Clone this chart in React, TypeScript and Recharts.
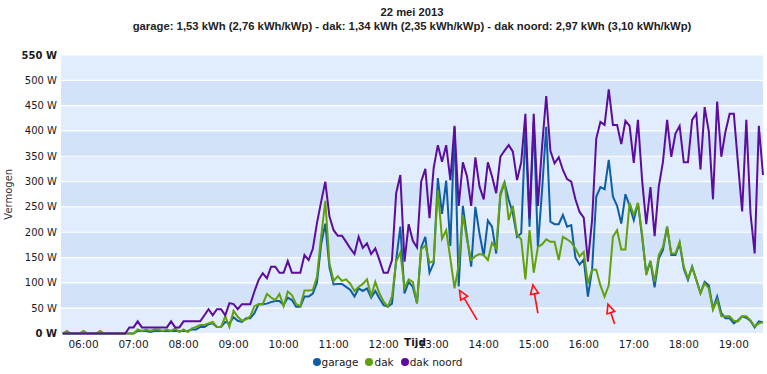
import React from 'react';
import { LineChart, Line, XAxis, YAxis, CartesianGrid, Legend, ReferenceLine } from 'recharts';

// samples every 5 minutes, first one at 05:35
const START_MIN = 335;
const STEP_MIN = 5;

const garage = [
  0, 0, 0, 0, 0, 0, 0, 0, 0, 0,
  0, 0, 0, 0, 0, 0, 0, 0, 5, 5,
  5, 3, 5, 5, 5, 5, 5, 5, 5, 5,
  5, 8, 8, 13, 13, 18, 20, 13, 13, 23,
  20, 32, 25, 23, 30, 30, 40, 58, 58, 59,
  62, 64, 64, 56, 71, 66, 53, 53, 73, 73,
  79, 100, 176, 217, 130, 97, 98, 98, 92, 86,
  73, 89, 84, 89, 71, 84, 69, 56, 53, 59,
  145, 211, 79, 102, 92, 60, 170, 191, 120, 139,
  307, 236, 302, 173, 407, 93, 252, 191, 132, 250,
  197, 153, 223, 211, 158, 273, 298, 264, 237, 191,
  198, 403, 211, 418, 171, 283, 408, 221, 216, 216,
  234, 211, 214, 150, 136, 146, 73, 126, 270, 289,
  285, 343, 270, 252, 217, 275, 252, 224, 257, 191,
  119, 142, 91, 148, 165, 211, 155, 155, 178, 128,
  106, 132, 106, 80, 102, 95, 49, 73, 40, 30,
  30, 20, 26, 34, 31, 25, 12, 24, 22,
];

const dak = [
  0, 5, 0, 0, 0, 5, 0, 0, 0, 5,
  0, 0, 0, 0, 0, 0, 0, 0, 8, 5,
  8, 5, 8, 8, 5, 8, 5, 10, 3, 8,
  3, 10, 13, 17, 17, 20, 23, 13, 13, 34,
  13, 45, 33, 25, 28, 34, 54, 58, 58, 78,
  71, 66, 78, 54, 83, 76, 58, 54, 85, 85,
  86, 112, 191, 262, 139, 104, 113, 104, 107, 98,
  84, 92, 98, 107, 74, 102, 79, 63, 53, 73,
  142, 160, 90, 107, 102, 59, 166, 174, 140, 143,
  283, 187, 204, 148, 89, 135, 234, 184, 145, 153,
  157, 155, 145, 179, 168, 277, 300, 224, 252, 195,
  186, 107, 204, 120, 171, 176, 186, 181, 181, 145,
  191, 186, 180, 168, 152, 161, 99, 126, 126, 95,
  73, 95, 191, 204, 166, 166, 258, 234, 258, 197,
  115, 144, 102, 155, 171, 211, 158, 158, 181, 132,
  109, 131, 106, 79, 99, 89, 47, 66, 34, 34,
  34, 25, 24, 34, 34, 26, 14, 20, 22,
];

const dakNoord = [
  0, 0, 0, 0, 0, 0, 0, 0, 0, 0,
  0, 0, 0, 0, 0, 0, 12, 12, 24, 12,
  12, 12, 12, 12, 12, 12, 24, 12, 12, 24,
  24, 24, 24, 24, 36, 48, 36, 48, 48, 36,
  60, 58, 48, 58, 58, 58, 83, 106, 119, 109,
  132, 132, 120, 120, 143, 120, 120, 120, 155, 145,
  167, 218, 260, 300, 231, 204, 193, 193, 181, 168,
  157, 191, 169, 178, 157, 168, 145, 120, 120, 145,
  277, 313, 142, 216, 183, 170, 300, 325, 228, 327,
  372, 339, 372, 303, 410, 252, 338, 310, 252, 348,
  290, 265, 338, 310, 277, 349, 361, 372, 359, 303,
  338, 434, 227, 434, 252, 369, 469, 361, 336, 348,
  323, 305, 300, 265, 240, 229, 142, 224, 385, 418,
  412, 482, 412, 412, 374, 420, 410, 337, 422, 303,
  216, 289, 192, 290, 339, 422, 349, 395, 410, 338,
  338, 422, 434, 324, 447, 399, 265, 458, 349, 399,
  434, 434, 336, 241, 422, 237, 158, 410, 313,
];

const hourTicks = [360, 420, 480, 540, 600, 660, 720, 780, 840, 900, 960, 1020, 1080, 1140];
const wattTicks = [0, 50, 100, 150, 200, 250, 300, 350, 400, 450, 500, 550];

const series = [
  { key: 'garage', name: 'garage', color: '#0e5ea6' },
  { key: 'dak', name: 'dak', color: '#62a10c' },
  { key: 'dakNoord', name: 'dak noord', color: '#5c0c9e' },
];

// red hand-drawn arrows: tail -> tip (minutes, W)
const arrows = [
  { tail: [832, 27], tip: [811, 85] },
  { tail: [905, 40], tip: [899, 96] },
  { tail: [997, 19], tip: [989, 58] },
];

const data = garage.map((g, i) => ({
  t: START_MIN + i * STEP_MIN,
  garage: g,
  dak: dak[i],
  dakNoord: dakNoord[i],
}));

const font = '"DejaVu Sans", Verdana, sans-serif';
const titleFont = '"Liberation Sans", Arial, sans-serif';

const fmtHour = (m: number) => `${String(Math.floor(m / 60)).padStart(2, '0')}:00`;

const YTick = ({ x, y, payload }: any) => {
  const edge = payload.value === 0 || payload.value === 550;
  return (
    <text x={x} y={y} dy={3.5} textAnchor="end" fontSize={10} fontFamily={font}
      fill="#1a1a1a" fontWeight={edge ? 'bold' : 'normal'}>
      {payload.value} W
    </text>
  );
};

const ArrowShape = (props: any) => {
  const { x1, y1, x2, y2 } = props;
  const dx = x1 - x2;
  const dy = y1 - y2;
  const len = Math.hypot(dx, dy) || 1;
  const ux = dx / len;
  const uy = dy / len;
  const bx = x2 + ux * 9;
  const by = y2 + uy * 9;
  const px = -uy * 4;
  const py = ux * 4;
  return (
    <g>
      <line x1={x1} y1={y1} x2={bx} y2={by} stroke="#ff1010" strokeWidth={1.6} />
      <polygon points={`${x2},${y2} ${bx + px},${by + py} ${bx - px},${by - py}`}
        fill="none" stroke="#ff1010" strokeWidth={1.6} />
    </g>
  );
};

const LegendRow = () => (
  <div style={{ display: 'flex', justifyContent: 'center', paddingLeft: 19, height: 16,
    alignItems: 'center', fontFamily: font, fontSize: 10.5, color: '#1a1a1a' }}>
    {series.map((s) => (
      <div key={s.key} style={{ display: 'flex', alignItems: 'center', marginRight: 7 }}>
        <span style={{ width: 8, height: 8, borderRadius: 4, background: s.color, marginRight: 1 }} />
        <span>{s.name}</span>
      </div>
    ))}
  </div>
);

export default function App() {
  return (
    <div style={{ position: 'absolute', left: 0, top: 0, width: 767, height: 374, background: '#fff' }}>
      <div style={{ position: 'absolute', left: 61, width: 702, top: 5, textAlign: 'center',
        fontFamily: titleFont, fontWeight: 'bold', fontSize: 11.2, lineHeight: '14px', color: '#222' }}>
        22 mei 2013
      </div>
      <div style={{ position: 'absolute', left: 61, width: 702, top: 19, textAlign: 'center',
        fontFamily: titleFont, fontWeight: 'bold', fontSize: 11.3, lineHeight: '14px', color: '#222' }}>
        garage: 1,53 kWh (2,76 kWh/kWp) - dak: 1,34 kWh (2,35 kWh/kWp) - dak noord: 2,97 kWh (3,10 kWh/kWp)
      </div>
      <LineChart width={767} height={374} data={data}
        margin={{ top: 55, right: 4, left: 0, bottom: 4.5 }}>
        <CartesianGrid vertical={false} stroke="#ffffff" strokeWidth={1.2}
          horizontalFill={['#e1edfc', '#d2e2f8']} />
        <XAxis dataKey="t" type="number" domain={[333, 1175]} ticks={hourTicks}
          tickFormatter={fmtHour} axisLine={false} tickLine={false} tickSize={0} tickMargin={7}
          height={20} interval={0}
          tick={{ fontSize: 10.5, fill: '#1a1a1a', fontFamily: font }}
          label={({ viewBox }: any) => (
            <text x={viewBox.x + viewBox.width / 2 + 3} y={viewBox.y + 12.5} textAnchor="middle"
              fontSize={10.5} fontWeight="bold" fontFamily={font} fill="#1a1a1a">Tijd</text>
          )} />
        <YAxis domain={[0, 550]} ticks={wattTicks} width={61} axisLine={false} tickLine={false}
          tickSize={0} tickMargin={4} interval={0} tick={<YTick />}
          label={({ viewBox }: any) => (
            <text x={12} y={viewBox.y + viewBox.height / 2} textAnchor="middle" fontSize={10}
              fontFamily={font} fill="#333" transform={`rotate(-90 12 ${viewBox.y + viewBox.height / 2})`}>
              Vermogen
            </text>
          )} />
        <Legend verticalAlign="bottom" content={() => <LegendRow />} />
        {series.map((s) => (
          <Line key={s.key} type="linear" dataKey={s.key} name={s.name} stroke={s.color}
            strokeWidth={2} dot={false} isAnimationActive={false} />
        ))}
        {arrows.map((a, i) => (
          <ReferenceLine key={i} segment={[{ x: a.tail[0], y: a.tail[1] }, { x: a.tip[0], y: a.tip[1] }]}
            shape={<ArrowShape />} ifOverflow="visible" />
        ))}
      </LineChart>
    </div>
  );
}
